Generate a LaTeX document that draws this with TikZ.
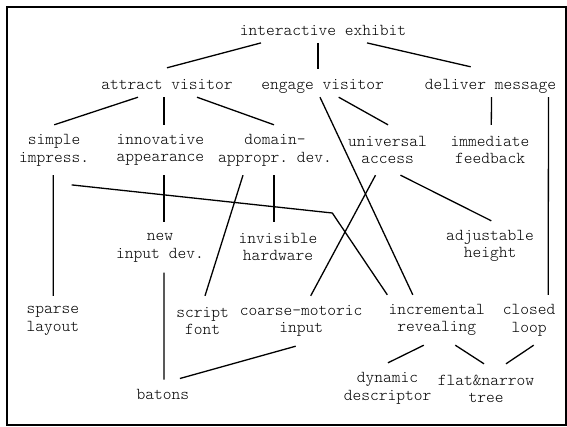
\documentclass[tikz,border=0pt]{standalone}
\usepackage{fontspec}
\setmonofont{lmmonolt10-regular.otf}
\usepackage{tikz}

\begin{document}
\begin{tikzpicture}[x=1pt, y=-1pt,
  lbl/.style={font=\ttfamily\fontsize{16.67}{17.7}\selectfont, inner sep=2pt},
  goal/.style={lbl, align=center, minimum height=50pt},
  goalone/.style={lbl, minimum height=22pt, text height=11pt, text depth=4pt},
  link/.style={line width=1.3pt}]
  \useasboundingbox (0,0) rectangle (567,426);
  \draw[line width=1.6pt] (7,7) rectangle (566,425);

  % goals, top to bottom
  \node[goalone] (exhibit) at (323,31.7) {interactive exhibit};
  \node[goalone] (attract) at (167,86) {attract visitor};
  \node[goalone] (engage) at (322.7,86) {engage visitor};
  \node[goalone] (deliver) at (490.5,86) {deliver message};
  \node[goal] (simple) at (54.2,150) {simple\\impress.};
  \node[goal] (innov) at (160.4,150) {innovative\\appearance};
  \node[goal] (domain) at (275,150) {domain-\\appropr. dev.};
  \node[goal] (universal) at (387.5,150) {universal\\access};
  \node[goal] (immediate) at (490,150) {immediate\\feedback};
  \node[goal] (newinput) at (160,247.5) {new\\input dev.};
  \node[goal] (invisible) at (278,247) {invisible\\hardware};
  \node[goal] (adjust) at (490,246) {adjustable\\height};
  \node[goal] (sparse) at (52.8,321) {sparse\\layout};
  \node[goal] (script) at (202.7,321) {script\\font};
  \node[goal] (coarse) at (301.2,321) {coarse-motoric\\input};
  \node[goal] (incr) at (436.8,320) {incremental\\revealing};
  \node[goal] (closed) at (529.2,320) {closed\\loop};
  \node[goalone] (batons) at (162.9,395.7) {batons};
  \node[goal] (dynamic) at (387.6,388) {dynamic\\descriptor};
  \node[goal] (flat) at (486,389) {flat\&narrow\\tree};

  \foreach \da/\b/\db/\dy in {-62/attract/0/7, -5/engage/-4.7/6, 44/deliver/-19.8/8}
    \draw[link] ([xshift=\da pt]exhibit.south) -- ([xshift=\db pt, yshift=\dy pt]\b.north);

  \foreach \a/\da/\b/\db in {attract/-29/simple/0, attract/-3/innov/3.6, attract/30/domain/-1,
      engage/16/universal/0.5, engage/-2.7/incr/-24, deliver/1/immediate/1.3, deliver/58/closed/19,
      innov/3.6/newinput/4, domain/-1/invisible/-4, domain/-32/script/2.3, universal/-12/coarse/9.5,
      universal/13/adjust/1.3, simple/-1/sparse/0.5, incr/-13/dynamic/0.4, incr/18.5/flat/-2,
      closed/4.5/flat/20}
    \draw[link] ([xshift=\da pt]\a.south) -- ([xshift=\db pt]\b.north);

  \coordinate (kink) at (332.3,213);
  \draw[link] ([xshift=17.5pt, yshift=-9.7pt]simple.south) -- (kink) -- ([xshift=-49.5pt]incr.north);
  \draw[link] ([xshift=4pt]newinput.south) -- ([xshift=1pt, yshift=5pt]batons.north);
  \draw[link] ([xshift=-5.5pt]coarse.south) -- ([xshift=17pt, yshift=6pt]batons.north);
\end{tikzpicture}
\end{document}
